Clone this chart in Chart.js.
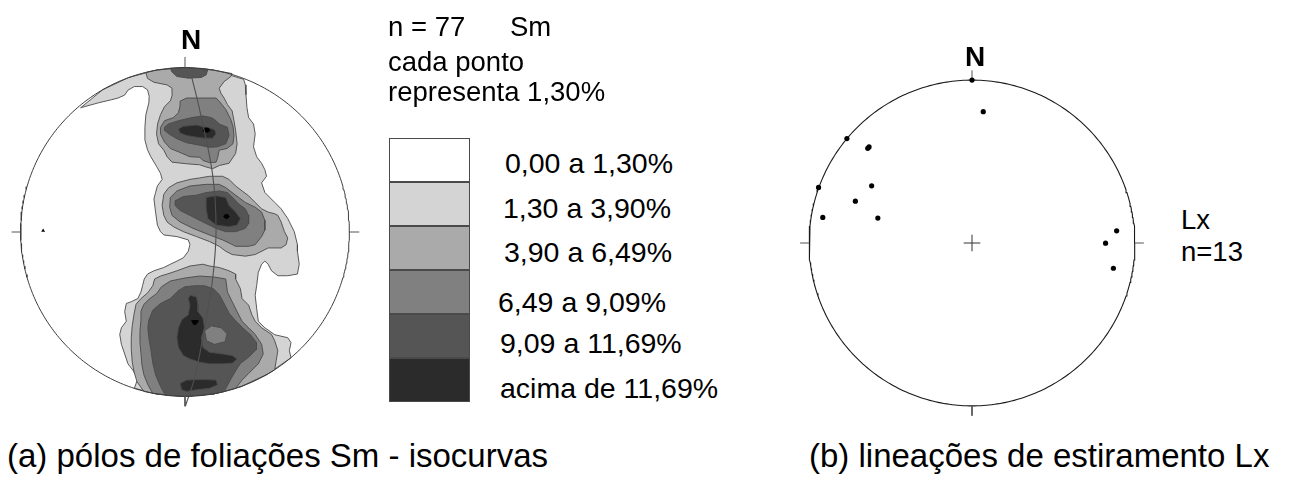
<!DOCTYPE html>
<html lang="pt">
<head>
<meta charset="utf-8">
<script src="https://cdn.jsdelivr.net/npm/chart.js@4.4.1/dist/chart.umd.min.js"></script>
<style>
  html, body { margin: 0; padding: 0; }
  body { width: 1310px; height: 477px; background: #fff; position: relative; overflow: hidden;
         font-family: "Liberation Sans", Arial, Helvetica, sans-serif; color: #000; }
  canvas { position: absolute; }
  .t { position: absolute; line-height: 1; white-space: nowrap; }
  .north { font-weight: bold; font-size: 28px; width: 40px; text-align: center; }
  .head { font-size: 27.5px; }
  .cls { font-size: 28.5px; }
  .cap { font-size: 33px; }
  .key { position: absolute; left: 389px; width: 81px; height: 44px; box-sizing: border-box;
         border: 1px solid #4a4a4a; }
</style>
</head>
<body>
<canvas id="netA" width="370" height="370" style="left:0px;top:47px"></canvas>
<canvas id="netB" width="370" height="370" style="left:787px;top:58px"></canvas>

<div class="t north" style="left:171px;top:25.6px">N</div>
<div class="t north" style="left:955px;top:43px">N</div>

<div class="t head" style="left:388px;top:13.4px">n = 77</div>
<div class="t head" style="left:510px;top:13.4px">Sm</div>
<div class="t head" style="left:388px;top:48.4px">cada ponto</div>
<div class="t head" style="left:388px;top:78.4px">representa 1,30%</div>

<div id="keys"></div>

<div class="t head" style="left:1181px;top:206px">Lx</div>
<div class="t head" style="left:1181px;top:238.4px">n=13</div>

<div class="t cap" style="left:7px;top:438.8px">(a) pólos de foliações Sm - isocurvas</div>
<div class="t cap" style="left:809px;top:438.8px">(b) lineações de estiramento Lx</div>

<script>
// ---- (a) Sm poles: density contour polygons, equal-area net of radius 100 ----
const lvl1Main = [[-63.5,75.6],[-50,86.6],[-34.2,94],[-17.4,98.5],[0,100],[17.4,98.5],[35.7,92.9],
  [36.7,89.5],[37.1,83.5],[37.7,75.6],[38.7,69.6],[41.7,65.7],[42.7,59.7],[41.7,51.8],[43.6,45.8],[46.6,41.8],
  [48.6,37.9],[49.6,33.9],[46.6,29.9],[48.6,24],[54.6,18],[58.5,14.1],[62.5,8.2],[66.5,0.2],[68.4,-7.7],
  [68.4,-11.7],[69.5,-19.6],[68.4,-25.6],[62.5,-26.6],[56.5,-26.6],[52.6,-23.6],[50.6,-19.6],[48.6,-17.7],
  [46.6,-19.6],[44.6,-24.6],[43.6,-32.6],[42.7,-38.5],[43.6,-46.4],[44.6,-54.3],[48.6,-58.3],[54.6,-62.5],
  [62.5,-64.3],[64.5,-67.3],[63.5,-72.2],[64.5,-76.5],
  [50,-86.6],[34.2,-94],[17.4,-98.5],[0,-100],[-17.4,-98.5],[-30.8,-95.1],
  [-28.7,-89.1],[-31.7,-84.1],[-34.7,-80.2],[-36.7,-74.2],[-38.7,-68.3],[-39.7,-62.3],[-38.7,-58.3],
  [-35.7,-54.3],[-36.7,-48.4],[-35.7,-43.5],[-32.7,-42.4],[-28.7,-40.5],[-26.8,-36.5],[-25.8,-32.6],
  [-24.8,-28.6],[-22.8,-25.6],[-18.9,-23.6],[-12.9,-21.6],[-8.9,-19.6],[-4.9,-17.7],[-1,-15.7],[2,-11.7],
  [3,-7.7],[2,-4.8],[-4.9,-2.8],[-12.9,-1.8],[-14.9,0.2],[-16.8,4.2],[-17.9,12.1],[-18.9,20.1],[-17.9,24],
  [-16.8,28],[-13.9,32],[-14.9,35.7],[-17.3,39.9],[-20.8,45.8],[-22.8,50],[-24.4,56],[-24.4,63.7],
  [-23.8,71.4],[-22,78.6],[-21.8,82.6],[-22.8,86.5],[-25.8,88.5],[-30.8,88.5],[-34.7,86.3],[-36.7,83.3],
  [-40.7,81.5],[-44.6,80.5],[-52.6,78.6]];

const lvl2North = [[-23.8,97],[-17.4,98.5],[0,100],[17.4,98.5],[28.6,96.4],
  [27.8,94.5],[23.8,91.5],[20.8,87.5],[21.8,84.5],[23.8,81.5],[25.8,77.6],[28.7,73.6],[29.8,67.7],
  [30.8,61.7],[31.7,53.7],[30.8,47.8],[26.8,41.8],[21,40.5],[16.8,38.5],[13,39.5],[8.9,40.9],[1,41.5],
  [-7.9,42.5],[-10.9,45.8],[-12.9,49.8],[-16.1,53.7],[-17.3,59.7],[-16.7,65.7],[-14.9,71.4],[-12.5,76.2],
  [-8.9,79.8],[-7.7,83.5],[-7.9,87.5],[-10.9,89.5],[-18.9,91.1],[-22.8,93.4]];

const lvl2Middle = [[-12.9,23.0],[-9.9,27.0],[-4.9,29.9],[3.0,32.0],[8.9,32.9],[14.9,33.9],[22.8,33.9],
  [26.8,32.0],[30.8,28.0],[34.7,25.0],[38.7,22.0],[42.7,18.0],[46.6,14.1],[50.6,12.1],[54.6,11.1],
  [56.5,10.1],[58.5,6.1],[60.5,0.2],[62.5,-3.7],[61.5,-7.7],[58.5,-9.7],[50.6,-9.7],[42.7,-13.7],
  [36.7,-14.7],[28.7,-13.7],[24.8,-11.7],[20.8,-8.7],[14.9,-5.8],[7.0,-2.8],[-1.0,0.2],[-7.0,3.2],
  [-10.9,6.1],[-12.9,10.1],[-13.9,16.1]];

const lvl2South = [[-14.9,-26.8],[-10.9,-25.6],[-4.9,-23.6],[3.0,-20.7],[10.9,-19.6],[14.9,-20.7],
  [20.8,-21.6],[26.8,-23.6],[30.8,-25.6],[30.8,-28.6],[33.7,-34.5],[34.7,-40.5],[38.7,-44.5],[40.7,-50.4],
  [42.7,-54.3],[46.6,-58.3],[52.6,-62.3],[54.6,-66.2],[56.5,-72.2],[55.5,-78.1],[54.6,-83.8],
  [50,-86.6],[34.2,-94.0],[17.4,-98.5],[0,-100],[-17.4,-98.5],[-25.0,-97.0],
  [-29.2,-91.1],[-31.0,-85.1],[-32.1,-79.2],[-32.7,-71.4],[-32.7,-64.3],[-32.1,-57.1],[-31.0,-50.0],
  [-29.8,-44.0],[-26.8,-40.5],[-22.6,-36.9],[-19.6,-32.7],[-18.5,-28.6]];

const lvl3Upper = [[-3.0,79.6],[1.0,81.5],[8.9,81.5],[18.9,81.5],[20.8,79.6],[24.8,74.6],[27.8,68.6],
  [29.2,64.3],[29.8,58.9],[29.2,53.7],[25.6,50.8],[20.8,49.8],[19.8,44.8],[18.9,42.5],[14.9,42.2],
  [10.9,43.5],[8.9,45.5],[3.0,45.8],[-4.0,48.8],[-8.9,50.8],[-12.5,54.8],[-14.9,59.7],[-14.9,63.7],
  [-12.5,67.7],[-7.0,69.6],[-4.0,72.6],[-3.0,76.6]];

const lvl3Middle = [[-8.9,21.0],[-4.9,25.0],[3.0,28.0],[12.9,29.0],[20.8,29.0],[24.8,27.0],[28.7,24.0],
  [32.7,21.0],[36.7,18.0],[42.7,15.1],[46.6,12.1],[48.6,7.1],[48.6,1.2],[46.6,-2.8],[42.7,-7.7],
  [38.7,-8.7],[30.8,-8.7],[26.8,-6.7],[22.8,-4.8],[14.9,-1.8],[4.9,2.2],[-3.0,6.1],[-7.9,10.1],[-9.3,15.1]];

const lvl3Lower = [[-14.3,-33.3],[-8.9,-29.8],[0,-28.0],[8.9,-26.8],[17.9,-27.4],[24.8,-28.6],
  [25.8,-36.5],[28.7,-42.4],[31.7,-48.4],[34.7,-54.3],[38.7,-58.3],[42.7,-62.3],[46.6,-68.3],[47.6,-74.2],
  [44.6,-80.2],[38.7,-86.1],[34.7,-90.1],[30.8,-95.1],
  [17.4,-98.5],[0,-100],[-19.6,-98.2],
  [-22.6,-92.9],[-25.0,-86.9],[-26.2,-80.9],[-26.8,-73.8],[-27.4,-67.3],[-27.4,-60.1],[-26.8,-53.6],
  [-26.8,-48.2],[-25.0,-44.0],[-21.4,-40.5],[-17.3,-37.5]];

const lvl4Cap = [[-8.9,99.6],[-7.9,97.3],[-4.9,94.6],[2.0,93.6],[9.9,94.0],[12.9,95.6],[13.9,99.0],[0,100]];

const lvl4Upper = [[-12.2,61.7],[-12.5,63.7],[-10.1,65.7],[-4.0,67.7],[4.0,69.6],[10.9,70.6],[15.9,69.6],
  [18.9,67.7],[20.8,65.7],[25.8,63.7],[26.8,58.7],[24.8,53.7],[19.8,51.8],[14.9,51.5],[8.9,52.8],
  [1.0,54.3],[-4.9,56.7],[-9.9,59.7]];

const lvl4Middle = [[-6.0,19.0],[-1.0,21.6],[7.0,22.4],[12.9,24.0],[20.8,25.0],[25.8,24.0],[29.8,20.1],
  [32.7,17.1],[36.7,14.1],[38.7,10.1],[38.7,5.2],[36.7,2.2],[30.8,0.2],[24.8,0.2],[18.9,2.2],[10.9,6.1],
  [3.0,10.1],[-3.0,13.1],[-6.0,16.1]];

const lvl4Lower = [[-22.0,-53.6],[-19.6,-47.6],[-14.9,-43.5],[-8.9,-40.5],[-4.2,-35.7],[0,-33.3],
  [6.0,-32.7],[11.9,-32.7],[17.3,-34.5],[20.8,-38.1],[23.8,-43.5],[26.8,-49.4],[30.4,-53.6],[35.1,-58.3],
  [39.9,-62.5],[43.5,-67.3],[43.5,-71.4],[38.7,-76.2],[33.9,-79.8],[31.5,-83.3],[28.0,-89.3],[23.8,-97.1],
  [17.4,-98.5],[0,-100],[-11.9,-99.3],
  [-14.9,-94.0],[-17.9,-86.9],[-19.6,-79.8],[-20.8,-71.4],[-22.0,-64.3],[-22.6,-58.3]];

const lvl3LowerBay = [[11.9,-60.1],[16.1,-57.1],[22.0,-58.3],[25.6,-61.9],[24.4,-66.7],[17.9,-68.4],[13.1,-66.1]];

const lvl5Upper = [[-4.0,62.7],[-1.0,64.3],[7.0,65.1],[12.9,63.7],[17.9,62.3],[18.9,59.7],[16.8,57.1],
  [11.9,57.1],[7.0,57.7],[1.0,58.7],[-3.0,60.3]];

const lvl5Middle = [[12.9,21.0],[18.9,22.0],[24.8,21.0],[26.8,16.1],[30.8,12.1],[33.7,8.2],[31.7,4.2],
  [26.8,3.2],[18.9,4.2],[13.9,8.2],[12.9,14.1]];

const lvl5Lower = [[3.0,-38.5],[7.0,-39.5],[7.9,-44.5],[7.9,-48.4],[10.9,-52.4],[11.9,-58.3],[9.9,-64.3],
  [10.9,-70.2],[14.9,-73.2],[22.8,-74.2],[28.7,-75.2],[31.7,-77.2],[28.7,-79.8],[22.8,-80.2],[14.9,-80.2],
  [8.9,-79.2],[3.0,-77.2],[-1.0,-75.2],[-4.0,-70.2],[-4.9,-64.3],[-4.0,-58.3],[-2.0,-53.4],[2.0,-50.4],
  [3.0,-44.5],[2.0,-40.5]];

const lvl5LowerBlob = [[-3.0,-92.1],[1.0,-90.1],[10.9,-89.7],[18.9,-90.1],[19.8,-93.0],[14.9,-95.1],
  [7.0,-96.0],[1.0,-97.0],[-2.0,-96.0]];

const lvl6Upper = [[11.0,62.3],[12.0,63.2],[14.3,63.2],[15.2,62.0],[14.3,60.8],[12.0,60.8],[11.0,61.4]];
const lvl6Middle = [[23.6,9.5],[24.4,10.6],[26.0,10.6],[26.9,9.5],[26.0,8.4],[24.4,8.4]];
const lvl6Lower = [[4.0,-53.9],[8.2,-53.9],[6.7,-56.3],[5.3,-56.3]];

// mean great circle of the Sm girdle and the lone pole west of it
const smGreatCircle = [[4.0,94.5],[8.9,74.4],[16.8,34.9],[18.9,1.2],[16.8,-28.6],[11.9,-58.3],[6.0,-88.1],[0.2,-106]];
const smLonePole = [[-86.3,0.8]];

// ---- (b) Lx stretching lineations (13 measurements) ----
const lxPoints = [[0,100],[6.9,80.6],[-76.8,64.1],[-64.0,58.1],[-63.2,59.0],[-94.2,34.1],[-61.6,35.1],
  [-71.6,25.7],[-91.6,15.7],[-57.8,15.3],[88.8,7.5],[82.0,-0.1],[86.8,-15.5]];

// ---- density classes shown in the key ----
const densityClasses = ['0,00 a 1,30%','1,30 a 3,90%','3,90 a 6,49%','6,49 a 9,09%','9,09 a 11,69%','acima de 11,69%'];

// contour layers, painted bottom to top: [class level, polygon]
const contourLayers = [
  [1, lvl1Main], [2, lvl2North], [2, lvl2Middle], [2, lvl2South],
  [3, lvl3Upper], [3, lvl3Middle], [3, lvl3Lower],
  [4, lvl4Cap], [4, lvl4Upper], [4, lvl4Middle], [4, lvl4Lower], [3, lvl3LowerBay],
  [5, lvl5Upper], [5, lvl5Middle], [5, lvl5Lower], [5, lvl5LowerBlob],
  [6, lvl6Upper], [6, lvl6Middle], [6, lvl6Lower]
];

const SHADES = ['#ffffff','#d4d4d4','#aaaaaa','#808080','#555555','#2b2b2b','#000000'];

// key boxes and labels
const keyTops = [138, 182, 226, 270, 314, 358];
const labelTops = [148.9, 193.9, 237.9, 287.9, 328.9, 373.9];
const labelLefts = [505, 503, 504, 498, 500, 500];
const keysEl = document.getElementById('keys');
densityClasses.forEach((label, i) => {
  const box = document.createElement('div');
  box.className = 'key';
  box.style.top = keyTops[i] + 'px';
  box.style.background = SHADES[i];
  keysEl.appendChild(box);
  const txt = document.createElement('div');
  txt.className = 't cls';
  txt.style.left = labelLefts[i] + 'px';
  txt.style.top = labelTops[i] + 'px';
  txt.textContent = label;
  keysEl.appendChild(txt);
});

// ---- helpers ----
const toXY = list => list.map(([x, y]) => ({x, y}));
const closedRing = list => { const d = toXY(list); d.push({...d[0]}); return d; };
const primitiveCircle = Array.from({length: 361}, (_, i) => ({
  x: 100 * Math.cos(i * Math.PI / 180), y: 100 * Math.sin(i * Math.PI / 180)
}));
const segment = (a, b, color) => ({
  data: [{x: a[0], y: a[1]}, {x: b[0], y: b[1]}], showLine: true, fill: false,
  borderColor: color, borderWidth: 1, pointRadius: 0
});

function withOrder(sets) {
  // first entry painted first (lowest), last entry on top
  return sets.map((s, i) => Object.assign(s, {order: sets.length - i}));
}

function netOptions(half) {
  return {
    responsive: false, animation: false, events: [], devicePixelRatio: 1,
    layout: {padding: 0},
    plugins: {legend: {display: false}, tooltip: {enabled: false}},
    scales: {
      x: {type: 'linear', min: -half, max: half, display: false},
      y: {type: 'linear', min: -half, max: half, display: false}
    }
  };
}

// ---- chart (a) ----
const setsA = contourLayers.map(([lvl, poly]) => ({
  data: closedRing(poly), showLine: true, fill: 'shape',
  backgroundColor: SHADES[lvl], borderColor: lvl === 6 ? '#000' : '#4a4a4a',
  borderWidth: 0.9, pointRadius: 0
}));
setsA.push({
  data: toXY(smGreatCircle), showLine: true, fill: false, tension: 0.35,
  borderColor: '#505050', borderWidth: 1.1, pointRadius: 0
});
setsA.push({
  data: primitiveCircle, showLine: true, fill: false,
  borderColor: '#3c3c3c', borderWidth: 1, pointRadius: 0
});
setsA.push(segment([0, 100], [0, 106.5], '#555'));
setsA.push(segment([0, -100], [0, -106], '#555'));
setsA.push(segment([-100, 0], [-105.5, 0], '#555'));
setsA.push(segment([100, 0], [106, 0], '#555'));
setsA.push({
  data: toXY(smLonePole), pointStyle: 'triangle', pointRadius: 2.2,
  backgroundColor: '#000', borderColor: '#000', borderWidth: 0
});

new Chart(document.getElementById('netA'), {
  type: 'scatter',
  data: {datasets: withOrder(setsA)},
  options: netOptions(185 / 1.68)
});

// ---- chart (b) ----
const setsB = [
  {data: primitiveCircle, showLine: true, fill: false, borderColor: '#1a1a1a', borderWidth: 1.1, pointRadius: 0},
  segment([0, 100], [0, 106], '#555'),
  segment([0, -100], [0, -106], '#555'),
  segment([-100, 0], [-105.5, 0], '#555'),
  segment([100, 0], [105.5, 0], '#555'),
  segment([-5.1, 0], [5.1, 0], '#333'),
  segment([0, -5.1], [0, 5.1], '#333'),
  {data: toXY(lxPoints), pointStyle: 'circle', pointRadius: 2.6,
   backgroundColor: '#000', borderColor: '#000', borderWidth: 0}
];

new Chart(document.getElementById('netB'), {
  type: 'scatter',
  data: {datasets: withOrder(setsB)},
  options: netOptions(185 / 1.665)
});
</script>
</body>
</html>
